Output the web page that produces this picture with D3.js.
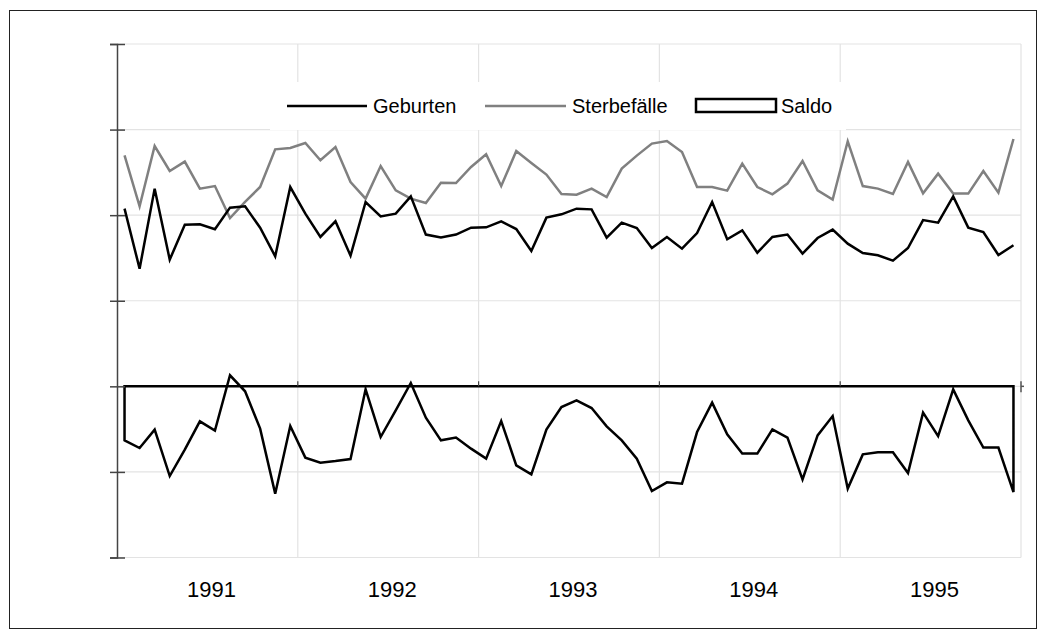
<!DOCTYPE html>
<html><head><meta charset="utf-8">
<script src="https://cdn.jsdelivr.net/npm/d3@7"></script>
<style>body{margin:0;background:#fff;}svg{display:block;font-family:"Liberation Sans",Arial,sans-serif;}</style>
</head><body><svg id="c" width="1046" height="639"></svg>
<script>
const years = ["1991","1992","1993","1994","1995"];
const months = d3.range(60);
const geburten = [60760,53750,63100,54800,58890,58930,58350,60880,61030,58540,55190,63290,
  60180,57450,59280,55270,61540,59860,60180,62200,57730,57380,57730,58540,
  58580,59280,58380,55810,59710,60100,60760,60680,57380,59130,58500,56160,
  57450,56090,57910,61540,57180,58230,55620,57450,57730,55510,57330,58310,
  56670,55580,55310,54690,56160,59430,59130,62200,58540,58030,55340,56480];
const sterbefaelle = [66990,61030,68080,65160,66260,63100,63400,59670,61540,63290,67690,67850,
  68430,66410,67960,63870,61930,65740,62900,61930,61420,63800,63760,65630,
  67110,63400,67500,66090,64740,62470,62400,63100,62120,65440,66960,68360,
  68660,67380,63290,63290,62870,66020,63290,62440,63690,66330,62900,61820,
  68630,63400,63100,62470,66210,62550,64850,62520,62520,65160,62630,68900];
const saldo = [-6310,-7210,-5060,-10480,-7400,-4090,-5180,1290,-580,-4940,-12540,-4640,
  -8330,-8920,-8730,-8500,-350,-5920,-2800,390,-3660,-6310,-5990,-7280,
  -8450,-4050,-9230,-10280,-5060,-2420,-1640,-2540,-4670,-6310,-8450,-12230,
  -11220,-11370,-5340,-1900,-5610,-7860,-7860,-5020,-5990,-10870,-5730,-3470,
  -11950,-7950,-7710,-7710,-10130,-3070,-5810,-350,-3970,-7160,-7160,-12350];
const saldoTicks = [-20000,-10000,0,10000,20000,30000,40000];
const legendItems = ["Geburten","Sterbefälle","Saldo"];

const svg = d3.select("#c");
const L = 117, R = 1021, T = 44, B = 557.5;

// outer frame
svg.append("rect").attr("x",9.5).attr("y",10.5).attr("width",1027).attr("height",618)
  .attr("fill","#fff").attr("stroke","#222").attr("stroke-width",1);

const x = d3.scaleBand().domain(months).range([L,R]);
const xc = i => x(i) + x.bandwidth()/2;
const xYear = d3.scaleBand().domain(years).range([L,R]);
const y = d3.scaleLinear().domain([-20000,40000]).range([B,T]);
const y2 = d3.scaleLinear().domain([20000,80000]).range([B,T]);

// gridlines
const g = svg.append("g");
g.selectAll("line.h").data(saldoTicks).join("line")
  .attr("x1",L).attr("x2",R).attr("y1",d=>y(d)).attr("y2",d=>y(d))
  .attr("stroke","#e3e3e3").attr("stroke-width",1.2);
g.selectAll("line.v").data(years.slice(1).concat(["end"])).join("line")
  .attr("x1",(d,i)=> i<4 ? xYear(d) : R).attr("x2",(d,i)=> i<4 ? xYear(d) : R)
  .attr("y1",T).attr("y2",B).attr("stroke","#e3e3e3").attr("stroke-width",1.2);

// legend background (white, covers gridlines)
const lg = svg.append("g");
lg.append("rect").attr("x",270).attr("y",82).attr("width",576).attr("height",48).attr("fill","#fff");
const ly = 106;
lg.append("line").attr("x1",287).attr("x2",367).attr("y1",ly).attr("y2",ly).attr("stroke","#000").attr("stroke-width",2.5);
lg.append("text").attr("x",373).attr("y",ly).attr("dy","0.35em").attr("font-size",20).text(legendItems[0]);
lg.append("line").attr("x1",485).attr("x2",566).attr("y1",ly).attr("y2",ly).attr("stroke","#808080").attr("stroke-width",2.5);
lg.append("text").attr("x",572).attr("y",ly).attr("dy","0.35em").attr("font-size",20).text(legendItems[1]);
lg.append("rect").attr("x",696).attr("y",99).attr("width",80).attr("height",13).attr("fill","#fff").attr("stroke","#000").attr("stroke-width",2.5);
lg.append("text").attr("x",781).attr("y",ly).attr("dy","0.35em").attr("font-size",20).text(legendItems[2]);

// Saldo area
const area = d3.area().x((d,i)=>xc(i)).y0(y(0)).y1(d=>y(d)).curve(d3.curveLinear);
svg.append("path").datum(saldo).attr("d",area).attr("fill","none").attr("stroke","#000")
  .attr("stroke-width",2.5).attr("stroke-linejoin","miter");

// Lines
const line2 = d3.line().x((d,i)=>xc(i)).y(d=>y2(d));
svg.append("path").datum(sterbefaelle).attr("d",line2).attr("fill","none").attr("stroke","#808080").attr("stroke-width",2.5);
svg.append("path").datum(geburten).attr("d",line2).attr("fill","none").attr("stroke","#000").attr("stroke-width",2.5);

// left axis
const ya = d3.axisLeft(y).tickValues(saldoTicks).tickSize(7).tickFormat("");
const yaG = svg.append("g").attr("transform",`translate(${L},0)`).call(ya);
yaG.select(".domain").attr("stroke","#444").attr("stroke-width",1.5);
yaG.selectAll(".tick line").attr("stroke","#444").attr("stroke-width",1.5).attr("x2",8).attr("x1",-7);

// category axis on zero line with upward ticks at year boundaries
const xa = d3.axisTop(xYear).tickSize(0).tickFormat("");
const xaG = svg.append("g").attr("transform",`translate(0,${y(0)})`).call(xa);
xaG.select(".domain").remove();
xaG.selectAll(".yt").data(years.slice(1)).join("line").attr("class","yt")
  .attr("x1",d=>xYear(d)).attr("x2",d=>xYear(d)).attr("y1",-5).attr("y2",0)
  .attr("stroke","#444").attr("stroke-width",1.2);
// secondary axis tick at right end
svg.append("line").attr("x1",R).attr("x2",R).attr("y1",y(0)-5).attr("y2",y(0)+6).attr("stroke","#555").attr("stroke-width",1.5);
svg.append("line").attr("x1",R).attr("x2",R+3).attr("y1",y(0)).attr("y2",y(0)).attr("stroke","#555").attr("stroke-width",1.5);

// year labels
svg.append("g").selectAll("text").data(years).join("text")
  .attr("x",d=>xYear(d)+xYear.bandwidth()/2+4).attr("y",589).attr("dy","0.35em")
  .attr("text-anchor","middle").attr("font-size",22).text(d=>d);
</script></body></html>
